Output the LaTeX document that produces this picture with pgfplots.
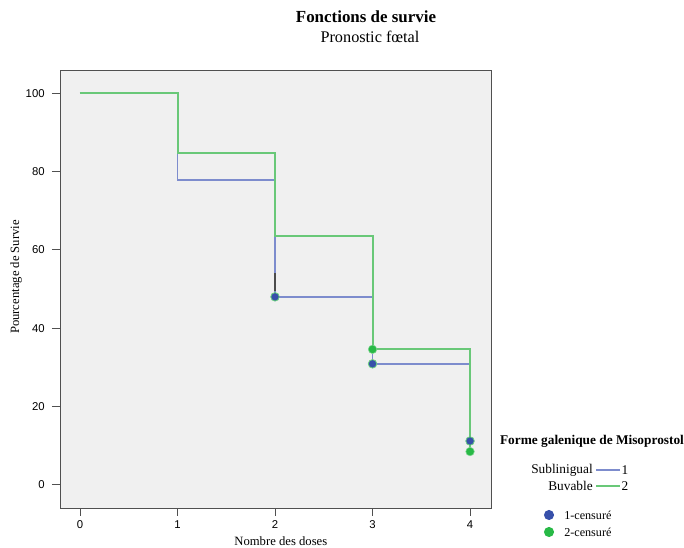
\documentclass[border=0pt]{standalone}
\usepackage{fontspec}
\setmainfont{Liberation Serif}
\newfontfamily\tickfont{Liberation Sans}
\usepackage{pgfplots}
\pgfplotsset{compat=1.18}
\definecolor{bgray}{RGB}{240,240,240}
\definecolor{frame}{RGB}{80,80,80}
\definecolor{lblue}{RGB}{125,140,205}
\definecolor{lgreen}{RGB}{105,200,120}
\definecolor{dblue}{RGB}{55,80,170}
\definecolor{dgreen}{RGB}{40,185,70}
\begin{document}
\begin{tikzpicture}
\useasboundingbox (-45pt,-30pt) rectangle (468pt,381pt);
\begin{axis}[
  at={(0pt,0pt)}, anchor=south west,
  scale only axis, width=323.25pt, height=328.5pt,
  xmin=-0.205, xmax=4.215, ymin=-5.9, ymax=105.9,
  axis background/.style={fill=bgray},
  axis line style={frame, line width=0.7pt},
  xtick={0,1,2,3,4}, ytick={0,20,40,60,80,100},
  tick align=outside, xtick pos=bottom, ytick pos=left,
  major tick length=6pt,
  tick style={frame, line width=0.7pt},
  ticklabel style={font=\tickfont\fontsize{8.5}{10}\selectfont, text=black},
  yticklabel style={xshift=-2pt},
  /pgf/number format/assume math mode=true,
  xlabel={Nombre des doses}, ylabel={Pourcentage de Survie},
  label style={font=\fontsize{9.5}{11}\selectfont},
  xlabel style={yshift=1pt, xshift=4pt},
  ylabel style={yshift=-4pt, xshift=9pt},
  clip=false,
]
\addplot[const plot, lblue, line width=1.4pt] coordinates {(0,100)(1,77.8)(2,48)(3,30.9)(4,11.2)};
\addplot[const plot, lgreen, line width=1.4pt] coordinates {(0,100)(1.003,84.7)(2,63.5)(3.003,34.6)(4,8.5)};
\addplot[black!70, line width=1.4pt] coordinates {(2,49.6)(2,54)};
\addplot[only marks, mark=*, mark size=3.2pt, mark options={fill=dgreen, draw=dgreen!60}] coordinates {(3,34.6)(4,8.5)};
\addplot[only marks, mark=*, mark size=3.2pt, mark options={fill=dblue, draw=dgreen!70, line width=0.6pt}] coordinates {(2,48)(3,30.9)(4,11.2)};
\end{axis}
\node[font=\bfseries\fontsize{12.7}{14}\selectfont] at (229.5pt,368.25pt) {Fonctions de survie};
\node[font=\fontsize{12.2}{14}\selectfont] at (232.5pt,353.25pt) {Pronostic f\oe tal};
\node[font=\bfseries\fontsize{10}{12}\selectfont] at (399pt,50.25pt) {Forme galenique de Misoprostol};
\node[font=\fontsize{10}{12}\selectfont, anchor=east, inner sep=0pt] at (399.75pt,28.5pt) {Sublinigual};
\node[font=\fontsize{10}{12}\selectfont, anchor=east, inner sep=0pt] at (399.75pt,16.5pt) {Buvable};
\draw[lblue, line width=0.9pt] (402pt,28.5pt) -- (420pt,28.5pt);
\draw[lgreen, line width=0.9pt] (402pt,16.5pt) -- (420pt,16.5pt);
\node[font=\fontsize{10}{12}\selectfont, anchor=west, inner sep=0pt] at (421pt,28.5pt) {1};
\node[font=\fontsize{10}{12}\selectfont, anchor=west, inner sep=0pt] at (421pt,16.5pt) {2};
\fill[dblue] (366.75pt,-5.25pt) circle (3.8pt);
\fill[dgreen] (366.75pt,-18pt) circle (3.8pt);
\node[font=\fontsize{9.1}{11}\selectfont, anchor=west, inner sep=0pt] at (378pt,-5.25pt) {1-censuré};
\node[font=\fontsize{9.1}{11}\selectfont, anchor=west, inner sep=0pt] at (378pt,-18pt) {2-censuré};
\end{tikzpicture}
\end{document}
